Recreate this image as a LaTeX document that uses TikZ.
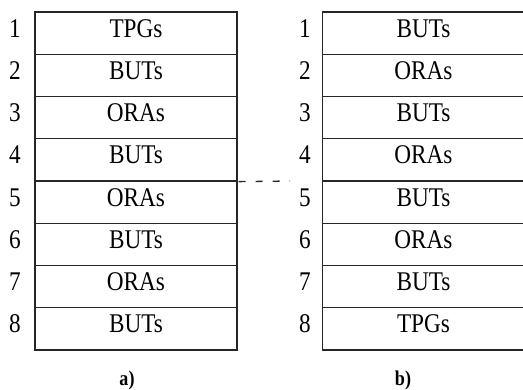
\documentclass[tikz,border=0pt]{standalone}
\usepackage{fontspec}
\setmainfont[FakeStretch=0.86]{Liberation Serif}
\begin{document}
\begin{tikzpicture}[x=1pt,y=-1pt,
  cell/.style={draw=black!85,line width=1.3pt,minimum width=202pt,minimum height=42.25pt,
    inner sep=0pt,text height=18pt,text depth=10.2pt,font=\fontsize{27}{30}\selectfont},
  rownum/.style={inner sep=0pt,text height=18pt,text depth=10.2pt,font=\fontsize{27}{30}\selectfont},
  caption/.style={inner sep=0pt,font=\fontsize{21}{24}\selectfont\bfseries}]
\useasboundingbox (0,0) rectangle (523,390);
% left stack
\foreach \i/\t in {1/TPGs,2/BUTs,3/ORAs,4/BUTs,5/ORAs,6/BUTs,7/ORAs,8/BUTs}{
  \node[cell] (a\i) at (136,{12+42.25*(\i-0.5)}) {\t};
  \node[rownum] (an\i) at (15,{12+42.25*(\i-0.5)}) {\i};
}
% right stack
\foreach \i/\t in {1/BUTs,2/ORAs,3/BUTs,4/ORAs,5/BUTs,6/ORAs,7/BUTs,8/TPGs}{
  \node[cell] (b\i) at (423.5,{12+42.25*(\i-0.5)}) {\t};
  \node[rownum] (bn\i) at (305,{12+42.25*(\i-0.5)}) {\i};
}
% dashed link between the two stacks
\coordinate (dashend) at (290,{12+42.25*4});
\draw[black!85,line width=1.3pt,dash pattern=on 7pt off 10pt,dash phase=-1pt] (a4.south east) -- (dashend);
% captions
\node[caption] (capa) at (127,380) {a)};
\node[caption] (capb) at (403,380) {b)};
\end{tikzpicture}
\end{document}
